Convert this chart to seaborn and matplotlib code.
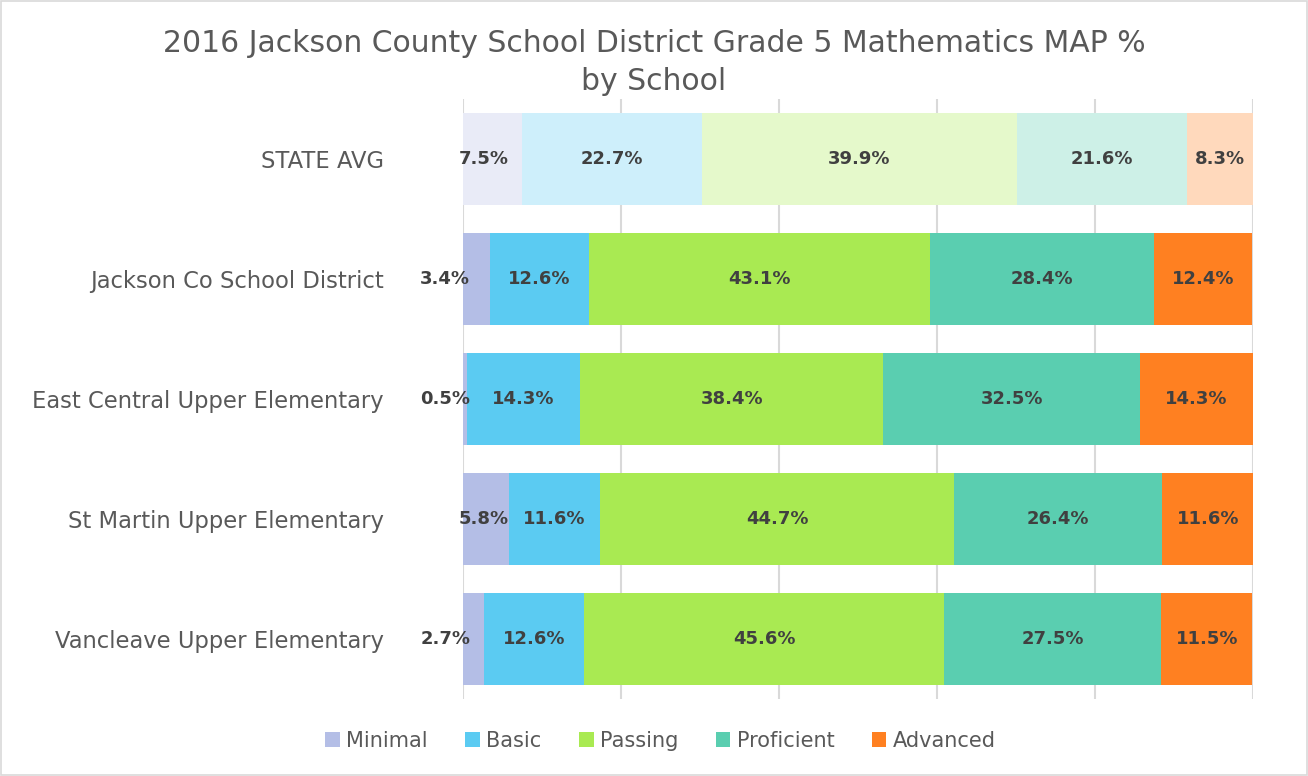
import numpy as np
import pandas as pd
import seaborn as sns
import matplotlib.pyplot as plt
from matplotlib.colors import to_rgb
from matplotlib.patches import Patch, Rectangle

# данные
schools = ["STATE AVG", "Jackson Co School District", "East Central Upper Elementary",
           "St Martin Upper Elementary", "Vancleave Upper Elementary"]
levels = ["Minimal", "Basic", "Passing", "Proficient", "Advanced"]
minimal = [7.5, 3.4, 0.5, 5.8, 2.7]
basic = [22.7, 12.6, 14.3, 11.6, 12.6]
passing = [39.9, 43.1, 38.4, 44.7, 45.6]
proficient = [21.6, 28.4, 32.5, 26.4, 27.5]
advanced = [8.3, 12.4, 14.3, 11.6, 11.5]
colors = ["#B4BEE6", "#5BCBF2", "#A9EA52", "#5ACEB0", "#FF8021"]

df = pd.DataFrame({"School": schools, "Minimal": minimal, "Basic": basic,
                   "Passing": passing, "Proficient": proficient, "Advanced": advanced})
cum = df[levels].cumsum(axis=1)

sns.set_style("white")
plt.rcParams['font.family'] = ['DejaVu Sans']

fig = plt.figure(figsize=(13.08, 7.76), dpi=100)
ax = fig.add_axes([0.354, 0.099, 0.604, 0.773])

# рисуем накопленные слои от большего к меньшему
for lev, c in reversed(list(zip(levels, colors))):
    sns.barplot(x=cum[lev], y=df["School"], color=c, width=0.767, orient="h",
                ax=ax, saturation=1, edgecolor="none", zorder=2)

# бледные цвета для STATE AVG
for p in ax.patches:
    if abs(p.get_y() + p.get_height() / 2) < 0.1:
        r, g, b = to_rgb(p.get_facecolor())
        a = 0.3
        p.set_facecolor((1 - a + a * r, 1 - a + a * g, 1 - a + a * b))

# подписи
for i in range(len(schools)):
    left = 0
    for j, lev in enumerate(levels):
        v = df.loc[i, lev]
        txt = f"{v:.1f}%"
        if j == 0 and v < 5:
            ax.text(0.9, i, txt, ha="right", va="center", fontsize=13,
                    fontweight="bold", color="#404040", zorder=5)
        elif j == 0:
            ax.text(min(v / 2, 2.6), i, txt, ha="center", va="center", fontsize=13,
                    fontweight="bold", color="#404040", zorder=5)
        else:
            ax.text(left + v / 2, i, txt, ha="center", va="center", fontsize=13,
                    fontweight="bold", color="#404040", zorder=5)
        left += v

ax.set_xlim(0, 100)
ax.set_ylim(4.5, -0.5)
ax.set_xticks([0, 20, 40, 60, 80, 100])
ax.set_xticklabels([])
ax.xaxis.grid(True, color="#D9D9D9", linewidth=1.5, zorder=0)
ax.set_axisbelow(True)
ax.tick_params(axis="x", length=0)
ax.tick_params(axis="y", length=0, labelsize=16.3, labelcolor="#595959", pad=57)
ax.set_xlabel("")
ax.set_ylabel("")
for s in ax.spines.values():
    s.set_visible(False)

fig.suptitle("2016 Jackson County School District Grade 5 Mathematics MAP %\nby School",
             y=0.962, fontsize=21.5, color="#595959", linespacing=1.38)

handles = [Patch(facecolor=c, edgecolor="none") for c in colors]
fig.legend(handles, levels, loc="center", bbox_to_anchor=(0.505, 0.045), ncol=5,
           frameon=False, fontsize=15, labelcolor="#595959", handlelength=0.7,
           handleheight=0.7, handletextpad=0.3, columnspacing=1.8)

fig.patches.append(Rectangle((0.001, 0.001), 0.998, 0.998, transform=fig.transFigure,
                             fill=False, edgecolor="#D9D9D9", linewidth=1.2))

fig.savefig("out.png", dpi=100)
